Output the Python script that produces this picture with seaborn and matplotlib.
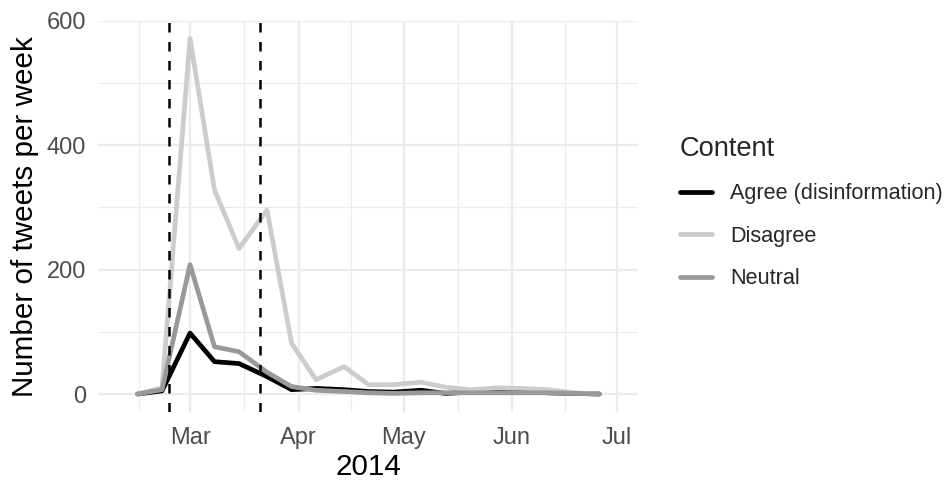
#!/usr/bin/env python3
import numpy as np
import pandas as pd
import matplotlib
matplotlib.use("Agg")
import matplotlib.pyplot as plt
import seaborn as sns

# weekly bins
week_dates = [
    "2014-02-14", "2014-02-21", "2014-03-01", "2014-03-08", "2014-03-15",
    "2014-03-23", "2014-03-30", "2014-04-06", "2014-04-14", "2014-04-21",
    "2014-04-28", "2014-05-06", "2014-05-13", "2014-05-20", "2014-05-28",
    "2014-06-04", "2014-06-11", "2014-06-19", "2014-06-26",
]
agree = [0, 5, 98, 52, 49, 28, 7, 9, 7, 4, 3, 6, 1, 3, 5, 5, 2, 1, 0]
disagree = [0, 10, 572, 328, 234, 296, 82, 23, 44, 15, 15, 19, 11, 7, 10, 9, 7, 2, 0]
neutral = [0, 7, 208, 76, 68, 35, 12, 6, 4, 2, 1, 2, 2, 2, 2, 2, 2, 1, 0]

series_names = ["Agree (disinformation)", "Disagree", "Neutral"]
series_colors = ["#000000", "#cccccc", "#999999"]

event_dates = ["2014-02-23", "2014-03-21"]
x_limits = ["2014-02-02 19:00", "2014-07-07 02:00"]
month_breaks = ["2014-03-01", "2014-04-01", "2014-05-01", "2014-06-01", "2014-07-01"]
month_labels = ["Mar", "Apr", "May", "Jun", "Jul"]
minor_breaks = ["2014-02-14 12:00", "2014-03-16 12:00", "2014-04-16 00:00",
                "2014-05-16 12:00", "2014-06-16 00:00"]
y_breaks = [0, 200, 400, 600]
y_minor = [100, 300, 500]


def build_frame():
    dates = pd.to_datetime(week_dates)
    rows = []
    for name, vals in zip(series_names, [agree, disagree, neutral]):
        for d, v in zip(dates, vals):
            rows.append({"week": d, "n": v, "Content": name})
    return pd.DataFrame(rows)


def main():
    sns.set_theme(style="white")
    plt.rcParams["font.family"] = ["Liberation Sans", "DejaVu Sans"]

    df = build_frame()

    fig = plt.figure(figsize=(9.49, 4.80), dpi=100)
    W, H = 949, 480
    left, right, top, bottom = 98.3, 638.3, 20.6, 411.8
    ax = fig.add_axes([left / W, 1 - bottom / H, (right - left) / W, (bottom - top) / H])

    sns.lineplot(
        data=df, x="week", y="n", hue="Content",
        hue_order=series_names, palette=series_colors,
        linewidth=3.4, ax=ax, legend=True,
    )

    for d in event_dates:
        ax.axvline(pd.Timestamp(d), color="black", linewidth=1.8,
                   linestyle=(0, (3.8, 3.8)), zorder=5)

    ax.set_xlim(pd.Timestamp(x_limits[0]), pd.Timestamp(x_limits[1]))
    ax.set_ylim(-28.6, 600.6)

    ax.set_xticks(pd.to_datetime(month_breaks))
    ax.set_xticklabels(month_labels)
    ax.set_xticks(pd.to_datetime(minor_breaks, format="ISO8601"), minor=True)
    ax.set_yticks(y_breaks)
    ax.set_yticks(y_minor, minor=True)

    ax.grid(True, which="major", color="#ebebeb", linewidth=1.6, zorder=0)
    ax.grid(True, which="minor", color="#ebebeb", linewidth=0.8, zorder=0)
    ax.set_axisbelow(True)
    for s in ax.spines.values():
        s.set_visible(False)

    ax.tick_params(axis="both", which="both", length=0, labelsize=17,
                   labelcolor="#4d4d4d")
    ax.tick_params(axis="x", pad=11)
    ax.tick_params(axis="y", pad=9)

    ax.set_xlabel("2014", fontsize=21.3, color="black", labelpad=3)
    ax.set_ylabel("Number of tweets per week", fontsize=21.3, color="black", labelpad=5)

    leg = ax.legend(
        title="Content", loc="upper left",
        bbox_to_anchor=(660 / W, 1 - 116 / H), bbox_transform=fig.transFigure,
        frameon=False, fontsize=15.6, title_fontsize=19.6,
        handlelength=1.5, handletextpad=0.85, labelspacing=1.0,
        alignment="left",
    )
    for line in leg.get_lines():
        line.set_linewidth(3.4)

    fig.savefig("out.png", dpi=100)
    plt.close(fig)


if __name__ == "__main__":
    main()
